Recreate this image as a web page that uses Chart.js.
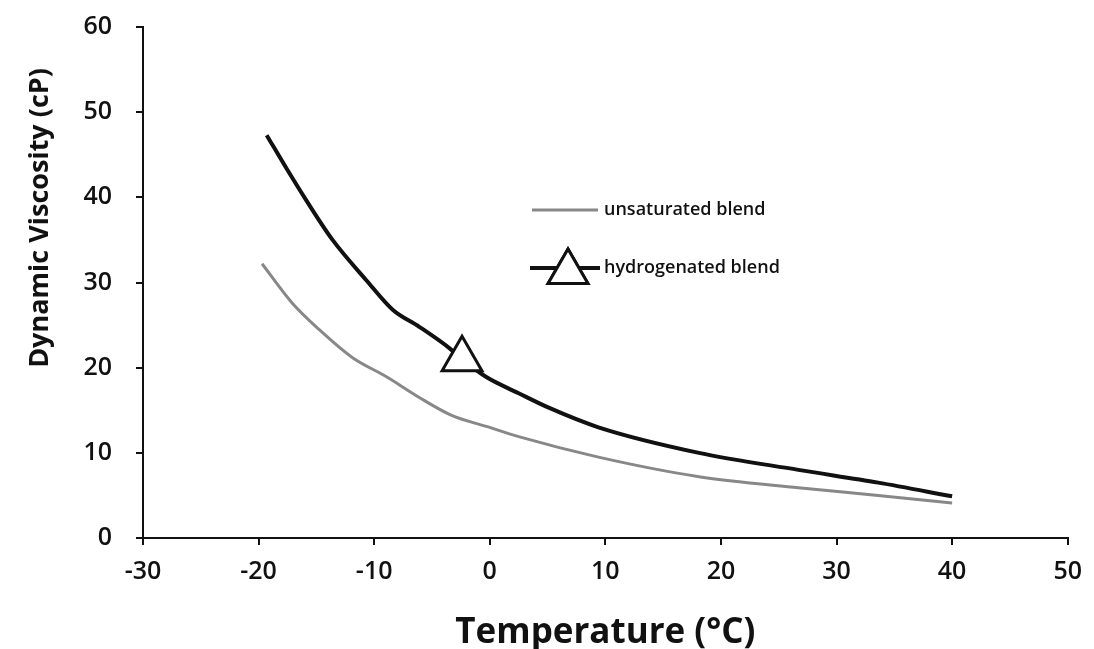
<!DOCTYPE html>
<html>
<head>
<meta charset="utf-8">
<script src="https://cdn.jsdelivr.net/npm/chart.js@4.4.0/dist/chart.umd.min.js"></script>
<style>
  html, body { margin: 0; padding: 0; background: #fff; }
  #wrap { width: 1094px; height: 649px; }
</style>
</head>
<body>
<div id="wrap"><canvas id="chart" width="1094" height="649"></canvas></div>
<script>
// values (temperature in °C, viscosity in cP)
const unsat_T = [-19.7, -17.1, -14.7, -11.9, -8.9, -6.1, -3.3, -0.3, 2.5, 9.4, 18.1, 26.7, 33.6, 40]
const unsat_V = [32.2, 27.6, 24.4, 21.2, 18.9, 16.5, 14.4, 13.1, 11.9, 9.5, 7.2, 5.9, 5.0, 4.1]

const hydro_T = [-19.3, -17.5, -15.9, -13.6, -10.7, -8.4, -6.1, -3.5, -2.4, -0.3, 2.5, 5.1, 9.4, 18.1, 26.7, 33.6, 40]
const hydro_V = [47.3, 43.2, 39.7, 35.0, 30.3, 26.8, 24.8, 22.3, 21.0, 18.9, 17.0, 15.3, 13.0, 10.0, 8.0, 6.5, 4.9]

// the single triangle marker sits on this point of the hydrogenated curve
const marker_T = -2.4

const labels = ['unsaturated blend', 'hydrogenated blend']
const x_ticks = [-30, -20, -10, 0, 10, 20, 30, 40, 50]
const y_ticks = [0, 10, 20, 30, 40, 50, 60]
const x_title = 'Temperature (°C)'
const y_title = 'Dynamic Viscosity (cP)'

const toPoints = (xs, ys) => xs.map((x, i) => ({ x: x, y: ys[i] }))

const font = "'Open Sans', 'Noto Sans', sans-serif"

// legend and y title drawn by hand, where the original has them
const extras = {
    id: 'extras',
    afterDraw(chart) {
        const ctx = chart.ctx
        ctx.save()
        ctx.font = `600 18px ${font}`
        ctx.fillStyle = '#111'
        ctx.textBaseline = 'middle'
        // unsaturated
        ctx.strokeStyle = '#888'
        ctx.lineWidth = 3
        ctx.beginPath()
        ctx.moveTo(532, 210)
        ctx.lineTo(598, 210)
        ctx.stroke()
        ctx.fillText(labels[0], 604, 210)
        // hydrogenated
        ctx.strokeStyle = '#111'
        ctx.lineWidth = 4
        ctx.beginPath()
        ctx.moveTo(530, 268)
        ctx.lineTo(600, 268)
        ctx.stroke()
        ctx.fillStyle = '#fff'
        ctx.lineWidth = 3
        Chart.helpers.drawPoint(ctx, { pointStyle: 'triangle', radius: 23, rotation: 0, borderWidth: 3 }, 568, 272)
        ctx.fill()
        ctx.stroke()
        ctx.fillStyle = '#111'
        ctx.fillText(labels[1], 604, 268)

        // y axis title, sits higher than centre in the original
        ctx.translate(40, 218)
        ctx.rotate(-Math.PI / 2)
        ctx.textAlign = 'center'
        ctx.font = `bold 27px ${font}`
        ctx.fillText(y_title, 0, 0)
        ctx.restore()
    }
}

const ctx = document.getElementById('chart').getContext('2d')
const myChart = new Chart(ctx, {
    type: 'line',
    data: {
        datasets: [{
            label: labels[0],
            data: toPoints(unsat_T, unsat_V),
            borderColor: '#888',
            borderWidth: 3,
            pointRadius: 0,
            cubicInterpolationMode: 'monotone'
        },
        {
            label: labels[1],
            data: toPoints(hydro_T, hydro_V),
            borderColor: '#111',
            borderWidth: 4,
            cubicInterpolationMode: 'monotone',
            pointStyle: 'triangle',
            pointRadius: (c) => (c.raw && c.raw.x === marker_T) ? 23 : 0,
            pointBackgroundColor: '#fff',
            pointBorderColor: '#111',
            pointBorderWidth: 3
        }]
    },
    options: {
        responsive: false,
        animation: false,
        layout: {
            padding: { top: 27, right: 22, left: 0, bottom: 0 }
        },
        plugins: {
            legend: { display: false },
            tooltip: { enabled: false }
        },
        scales: {
            x: {
                type: 'linear',
                min: -30,
                max: 50,
                afterBuildTicks: (axis) => { axis.ticks = x_ticks.map(v => ({ value: v })) },
                afterFit: (axis) => { axis.height = 111 },
                border: { color: '#111', width: 2 },
                grid: { drawOnChartArea: false, color: '#111', tickLength: 7, lineWidth: 2 },
                ticks: {
                    color: '#111',
                    padding: 12,
                    font: { family: font, size: 25, weight: '600' }
                },
                title: {
                    display: true,
                    text: x_title,
                    color: '#111',
                    padding: { top: 0, bottom: -5 },
                    font: { family: font, size: 35, weight: 'bold' }
                }
            },
            y: {
                min: 0,
                max: 60,
                afterBuildTicks: (axis) => { axis.ticks = y_ticks.map(v => ({ value: v })) },
                afterFit: (axis) => {
                    axis.width = 143
                    axis.paddingTop = 0
                    axis.paddingBottom = 0
                },
                border: { color: '#111', width: 2 },
                grid: { drawOnChartArea: false, color: '#111', tickLength: 7, lineWidth: 2 },
                ticks: {
                    color: '#111',
                    padding: 24,
                    font: { family: font, size: 25, weight: '600' }
                }
            }
        }
    },
    plugins: [extras]
});
</script>
</body>
</html>
